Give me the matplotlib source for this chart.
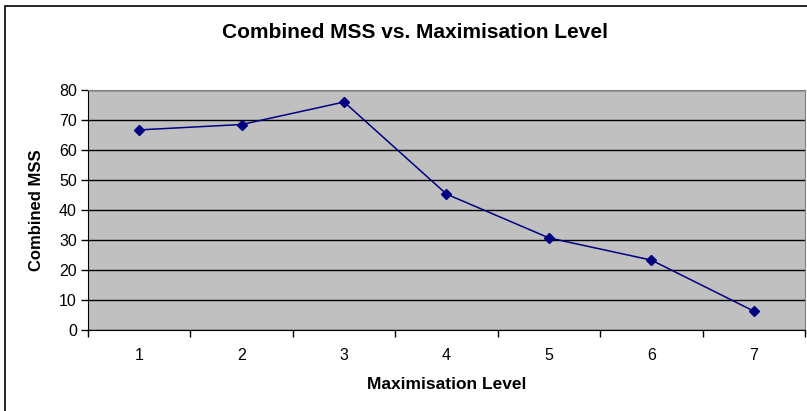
import numpy as np
import matplotlib.pyplot as plt
from matplotlib.patches import Rectangle

levels = ['1', '2', '3', '4', '5', '6', '7']
combined_mss = [66.7, 68.5, 76.0, 45.3, 30.7, 23.3, 6.3]

plt.rcParams['font.family'] = ['Liberation Sans', 'DejaVu Sans']

fig = plt.figure(figsize=(8.07, 4.11), dpi=100)
ax = fig.add_axes([88 / 807, 1 - 330 / 411, (805 - 88) / 807, 240 / 411])

# outer chart border (right/bottom run off the picture)
fig.patches.append(Rectangle((5 / 807, -0.1), 1.1, 1 - 6 / 411 + 0.1,
                             transform=fig.transFigure, fill=False,
                             edgecolor='black', linewidth=1.2))

x = np.arange(len(levels))
ax.set_facecolor('#c0c0c0')
ax.plot(x, combined_mss, color='#000080', linewidth=1.1,
        marker='D', markersize=5, zorder=3)

ax.set_xlim(-0.5, len(levels) - 0.5)
ax.set_ylim(0, 80)
ax.set_yticks(np.arange(0, 81, 10))
ax.yaxis.grid(True, color='black', linewidth=1)
ax.set_axisbelow(True)

ax.set_xticks(x)
ax.set_xticklabels(levels)
ax.set_xticks(np.arange(-0.5, len(levels)), minor=True)
ax.tick_params(axis='x', which='major', length=0, pad=13, labelsize=11.5)
ax.tick_params(axis='x', which='minor', length=5, width=1, color='black')
ax.tick_params(axis='y', length=5, width=1, labelsize=11.5, pad=3)

for side in ['top', 'right']:
    ax.spines[side].set_color('#808080')
ax.spines['left'].set_color('black')
ax.spines['bottom'].set_color('black')

ax.set_xlabel('Maximisation Level', fontsize=12.5, fontweight='bold', va='center')
ax.xaxis.set_label_coords(0.5 + (447 - 446.5) / 717, -(384 - 330) / 240)
ax.set_ylabel('Combined MSS', fontsize=12, fontweight='bold', va='center')
ax.yaxis.set_label_coords(-(88 - 36) / 717, 0.5 + (210 - 210) / 240)
fig.text(415 / 807, 1 - 33 / 411, 'Combined MSS vs. Maximisation Level',
         ha='center', va='center', fontsize=15, fontweight='bold')

fig.savefig('out.png', dpi=100)
